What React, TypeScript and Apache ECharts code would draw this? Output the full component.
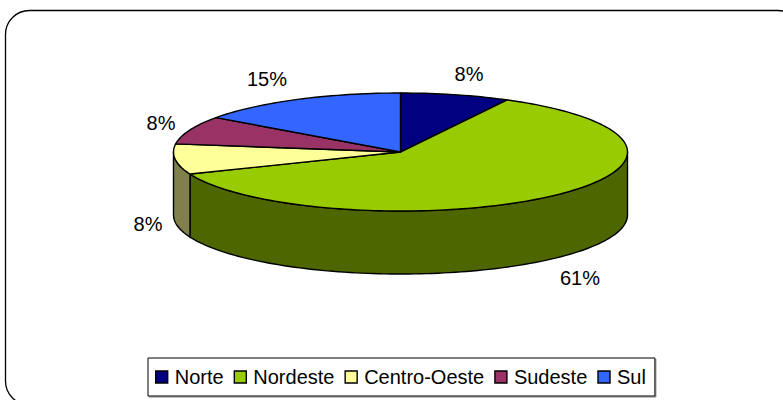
import React, { useEffect, useRef } from "react";
import * as echarts from "echarts";

const categories = ["Norte", "Nordeste", "Centro-Oeste", "Sudeste", "Sul"];
const shares = [7.8, 61.1, 8.3, 7.7, 15.1];
const labels = ["8%", "61%", "8%", "8%", "15%"];
const topColors = ["#000080", "#99CC00", "#FFFF99", "#993366", "#3366FF"];
const sideColors = ["#000040", "#4D6600", "#80804D", "#4D1A33", "#1A3380"];

// Layout of the flattened pie (pixels)
const CX = 400.5;
const CY = 152;
const RX = 227;
const RY = 59;
const DEPTH = 63;
// Where each percentage label sits (pixels), in category order
const labelSpots = [
  [469, 74],
  [580, 278],
  [148, 224],
  [161, 123],
  [267, 79],
];

const ptAt = (deg: number, dy = 0): number[] => {
  const a = (deg * Math.PI) / 180;
  return [CX + RX * Math.sin(a), CY - RY * Math.cos(a) + dy];
};

const arcPts = (from: number, to: number, dy = 0): number[][] => {
  const n = Math.max(2, Math.ceil(Math.abs(to - from) / 1.5));
  const out: number[][] = [];
  for (let i = 0; i <= n; i++) out.push(ptAt(from + ((to - from) * i) / n, dy));
  return out;
};

const total = shares.reduce((s, v) => s + v, 0);
const angleSpans = shares.map((_, i) => {
  const before = shares.slice(0, i).reduce((s, v) => s + v, 0);
  return [(before / total) * 360, ((before + shares[i]) / total) * 360];
});

const sliceSeries = categories.map((name, i) => ({
  type: "custom",
  name,
  coordinateSystem: "none",
  silent: true,
  itemStyle: { color: topColors[i] },
  data: [[shares[i]]],
  renderItem: () => {
    const [start, end] = angleSpans[i];
    const children: any[] = [];
    const stroke = { stroke: "#000", lineWidth: 1.4, lineJoin: "round" };
    // the wall is only visible on the front half of the disc
    const wallFrom = Math.max(start, 90);
    const wallTo = Math.min(end, 270);
    if (wallFrom < wallTo) {
      const upper = arcPts(wallFrom, wallTo);
      const lower = arcPts(wallTo, wallFrom, DEPTH);
      children.push({
        type: "polygon",
        shape: { points: [...upper, ...lower] },
        style: { fill: sideColors[i], ...stroke },
      });
    }
    children.push({
      type: "polygon",
      shape: { points: [[CX, CY], ...arcPts(start, end)] },
      style: { fill: topColors[i], ...stroke },
    });
    const [lx, ly] = labelSpots[i];
    children.push({
      type: "text",
      x: lx,
      y: ly,
      style: {
        text: labels[i],
        fill: "#000",
        font: '20px "Liberation Sans", Arial, sans-serif',
        textAlign: "center",
        textVerticalAlign: "middle",
      },
    });
    return { type: "group", children };
  },
}));

export default function App() {
  const ref = useRef<HTMLDivElement>(null);
  useEffect(() => {
    document.body.style.margin = "0";
    const chart = echarts.init(ref.current!, undefined, { renderer: "svg" });
    chart.setOption({
      animation: false,
      backgroundColor: "#fff",
      graphic: [
        {
          type: "rect",
          silent: true,
          z: -1,
          shape: { x: 5.5, y: 10.5, width: 796.5, height: 394.5, r: 24 },
          style: { fill: "none", stroke: "#000", lineWidth: 1.3 },
        },
      ],
      legend: {
        data: categories,
        left: 148,
        top: 358,
        orient: "horizontal",
        icon: "rect",
        itemWidth: 12,
        itemHeight: 12,
        itemGap: 10,
        padding: [9, 9, 9, 7],
        backgroundColor: "#fff",
        borderColor: "#000",
        borderWidth: 1,
        shadowColor: "#808080",
        shadowBlur: 0,
        shadowOffsetX: 1,
        shadowOffsetY: 1,
        selectedMode: false,
        itemStyle: { borderColor: "#000", borderWidth: 1.4 },
        textStyle: {
          color: "#000",
          fontSize: 20,
          fontFamily: '"Liberation Sans", Arial, sans-serif',
          padding: [0, 0, 0, 2],
        },
      },
      series: sliceSeries,
    });
    return () => chart.dispose();
  }, []);
  return <div ref={ref} style={{ width: 783, height: 400 }} />;
}
